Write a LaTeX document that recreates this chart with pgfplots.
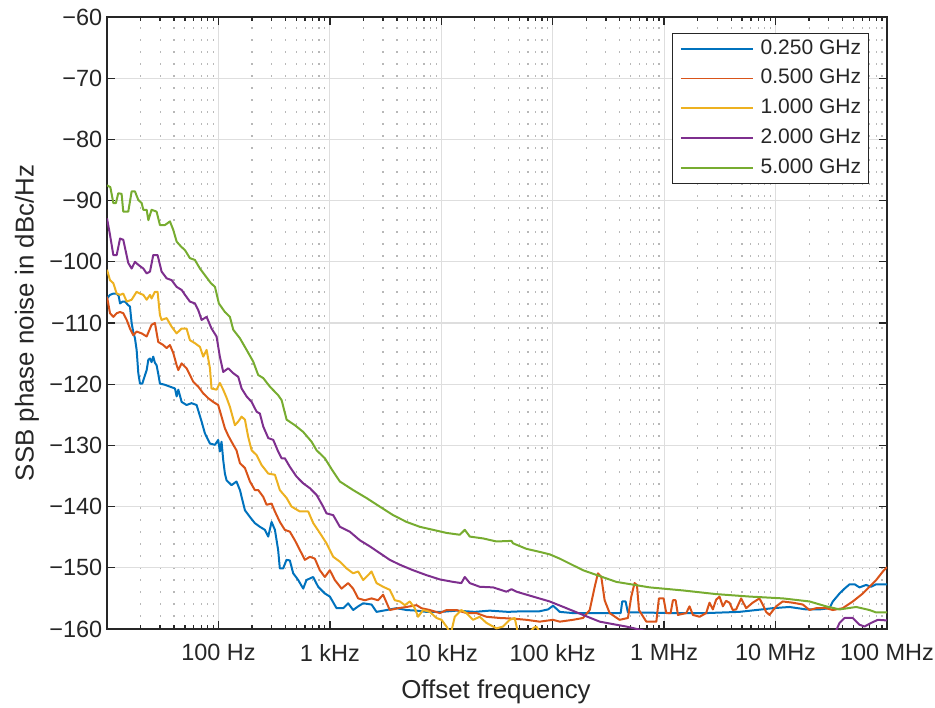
\documentclass[border=0pt]{standalone}
\usepackage{fontspec}
\setmainfont{Liberation Sans}
\usepackage{pgfplots}
\pgfplotsset{compat=1.18}
\definecolor{axgray}{rgb}{0.15,0.15,0.15}
\definecolor{mblue}{rgb}{0,0.447,0.741}
\definecolor{mred}{rgb}{0.850,0.325,0.098}
\definecolor{myellow}{rgb}{0.929,0.694,0.125}
\definecolor{mpurple}{rgb}{0.494,0.184,0.556}
\definecolor{mgreen}{rgb}{0.466,0.674,0.188}
\definecolor{majgrid}{rgb}{0.87,0.87,0.87}
\definecolor{mingrid}{rgb}{0.72,0.72,0.72}
\begin{document}
\begin{tikzpicture}
\begin{axis}[
  name=ax,
  scale only axis,
  width=585pt, height=459pt,
  xmin=1, xmax=8, ymin=-160, ymax=-60,
  xtick={2,3,4,5,6,7,8},
  xticklabels={100 Hz,1 kHz,10 kHz,100 kHz,1 MHz,10 MHz,100 MHz},
  minor xtick={1.30103,1.47712,1.60206,1.69897,1.77815,1.84510,1.90309,1.95424,
               2.30103,2.47712,2.60206,2.69897,2.77815,2.84510,2.90309,2.95424,
               3.30103,3.47712,3.60206,3.69897,3.77815,3.84510,3.90309,3.95424,
               4.30103,4.47712,4.60206,4.69897,4.77815,4.84510,4.90309,4.95424,
               5.30103,5.47712,5.60206,5.69897,5.77815,5.84510,5.90309,5.95424,
               6.30103,6.47712,6.60206,6.69897,6.77815,6.84510,6.90309,6.95424,
               7.30103,7.47712,7.60206,7.69897,7.77815,7.84510,7.90309,7.95424},
  ytick={-160,-150,-140,-130,-120,-110,-100,-90,-80,-70,-60},
  yticklabels={−160,−150,−140,−130,−120,−110,−100,−90,−80,−70,−60},
  grid=both,
  major grid style={line width=0.9pt, majgrid},
  minor grid style={line width=0.9pt, mingrid, dash pattern=on 1.2pt off 7.8pt},
  axis line style={axgray, line width=1pt},
  major tick length=6pt, minor tick length=3pt,
  every tick/.style={axgray, line width=1pt},
  tick label style={font=\fontsize{17.6}{21}\selectfont, text=axgray},
  xticklabel style={yshift=-8pt},
  label style={font=\fontsize{19.4}{23}\selectfont, text=axgray},
  xlabel={Offset frequency},
  ylabel={SSB phase noise in dBc/Hz},
  xlabel style={at={(axis description cs:0.4987,-0.103)}, anchor=center},
  ylabel style={at={(axis description cs:-0.1026,0.5)}, anchor=center},
  legend style={at={(rel axis cs:0.9769,0.9739)}, anchor=north east,
    draw=axgray, line width=0.8pt, fill=white,
    font=\fontsize{15.75}{18}\selectfont, text=axgray,
    inner xsep=5.5pt, inner ysep=4pt, row sep=7.3pt, column sep=5.25pt,
    nodes={inner sep=0pt, text height=11.5pt, text depth=3.5pt}},
  legend cell align=left,
  legend image code/.code={\draw[#1, line width=1.3pt] (0pt,0pt) -- (54pt,0pt);},
  every axis plot/.append style={line width=1.5pt, line join=round},
]
\addplot[mblue] coordinates {
(1.000,-106.0) (1.027,-105.4) (1.057,-105.2) (1.087,-105.2) (1.105,-105.6) (1.117,-106.8)
(1.140,-106.5) (1.161,-106.5) (1.191,-107.1) (1.206,-107.3) (1.221,-110.0) (1.236,-111.5)
(1.251,-112.5) (1.266,-114.4) (1.281,-118.2) (1.296,-119.9) (1.317,-119.9) (1.336,-118.8)
(1.356,-117.7) (1.371,-116.0) (1.386,-115.8) (1.400,-116.4) (1.415,-115.5) (1.430,-116.5)
(1.445,-116.9) (1.460,-118.3) (1.475,-119.9) (1.520,-120.1) (1.565,-120.4) (1.610,-120.7)
(1.625,-122.0) (1.640,-120.9) (1.670,-122.9) (1.714,-123.4) (1.759,-123.1) (1.804,-123.4)
(1.849,-126.1) (1.878,-128.0) (1.924,-129.7) (1.969,-129.9) (1.998,-129.1) (2.013,-131.0)
(2.028,-129.4) (2.043,-132.4) (2.058,-134.6) (2.073,-135.7) (2.118,-136.5) (2.162,-135.9)
(2.193,-137.3) (2.238,-140.6) (2.283,-141.7) (2.327,-142.7) (2.372,-143.3) (2.417,-143.8)
(2.447,-144.9) (2.477,-142.5) (2.507,-143.8) (2.536,-147.1) (2.551,-150.1) (2.581,-150.1)
(2.611,-148.7) (2.641,-148.8) (2.671,-150.9) (2.716,-152.0) (2.761,-153.4) (2.790,-152.0)
(2.850,-151.5) (2.895,-153.1) (2.955,-154.2) (3.000,-154.7) (3.060,-156.6) (3.120,-156.6)
(3.164,-155.8) (3.209,-156.9) (3.254,-156.3) (3.299,-155.8) (3.374,-156.0) (3.419,-157.2)
(3.509,-156.9) (3.598,-156.6) (3.688,-156.9) (3.778,-157.0) (3.867,-157.2) (4.000,-157.2)
(4.136,-157.0) (4.300,-157.2) (4.435,-157.0) (4.600,-157.2) (4.734,-157.1) (4.883,-157.1)
(4.958,-156.8) (5.003,-156.2) (5.040,-156.8) (5.063,-157.2) (5.182,-157.4) (5.481,-157.4)
(5.610,-157.4) (5.624,-155.5) (5.654,-155.5) (5.675,-157.3) (5.780,-157.3) (6.079,-157.4)
(6.377,-157.4) (6.676,-157.2) (6.826,-156.9) (6.975,-156.6) (7.124,-156.4) (7.274,-156.8)
(7.394,-156.8) (7.484,-156.6) (7.514,-155.5) (7.574,-154.2) (7.619,-153.4) (7.664,-152.7)
(7.710,-152.7) (7.753,-153.2) (7.783,-153.0) (7.812,-152.8) (7.857,-153.1) (7.901,-152.7)
(8.000,-152.7)};
\addlegendentry{0.250 GHz}
\addplot[mred] coordinates {
(1.000,-105.7) (1.027,-108.4) (1.057,-109.0) (1.087,-108.4) (1.117,-108.2) (1.146,-108.4)
(1.177,-109.5) (1.206,-110.9) (1.236,-112.0) (1.266,-111.4) (1.311,-111.7) (1.356,-112.2)
(1.400,-110.3) (1.430,-110.0) (1.460,-113.1) (1.505,-113.6) (1.535,-114.1) (1.565,-113.6)
(1.595,-114.9) (1.625,-116.9) (1.640,-117.7) (1.670,-116.6) (1.714,-117.4) (1.744,-118.5)
(1.774,-119.6) (1.819,-120.4) (1.864,-121.5) (1.909,-122.3) (1.953,-122.9) (1.998,-123.4)
(2.028,-125.3) (2.058,-127.2) (2.088,-128.4) (2.133,-129.9) (2.162,-130.8) (2.193,-132.9)
(2.238,-133.7) (2.283,-135.9) (2.327,-137.3) (2.357,-137.3) (2.402,-138.4) (2.432,-139.7)
(2.477,-139.5) (2.507,-140.8) (2.551,-142.5) (2.596,-143.8) (2.641,-144.1) (2.686,-145.5)
(2.731,-147.1) (2.776,-148.7) (2.821,-148.2) (2.865,-148.5) (2.910,-150.4) (2.955,-151.5)
(3.000,-150.4) (3.045,-152.0) (3.105,-153.4) (3.164,-152.5) (3.209,-153.4) (3.254,-155.0)
(3.314,-155.3) (3.374,-155.0) (3.433,-155.3) (3.478,-154.4) (3.538,-156.9) (3.613,-156.6)
(3.688,-156.4) (3.778,-156.1) (3.822,-156.6) (3.897,-156.9) (3.987,-157.4) (4.047,-156.9)
(4.136,-156.9) (4.226,-157.4) (4.315,-157.4) (4.405,-158.0) (4.525,-158.2) (4.644,-158.3)
(4.764,-158.5) (4.883,-158.8) (5.003,-158.5) (5.063,-158.8) (5.182,-158.5) (5.272,-158.2)
(5.332,-156.9) (5.377,-153.1) (5.406,-150.9) (5.436,-151.5) (5.466,-155.3) (5.511,-157.4)
(5.600,-158.5) (5.675,-158.2) (5.705,-154.7) (5.735,-152.5) (5.756,-152.8) (5.774,-156.9)
(5.840,-158.8) (5.930,-158.8) (5.953,-155.0) (5.995,-155.0) (6.019,-157.4) (6.058,-157.4)
(6.079,-155.3) (6.103,-155.3) (6.124,-157.7) (6.198,-157.4) (6.228,-156.3) (6.258,-157.7)
(6.318,-158.0) (6.377,-157.4) (6.407,-155.7) (6.437,-156.8) (6.467,-155.2) (6.497,-154.7)
(6.527,-156.3) (6.556,-155.4) (6.586,-155.7) (6.616,-156.9) (6.646,-156.8) (6.691,-155.0)
(6.736,-156.6) (6.795,-155.7) (6.855,-155.0) (6.885,-156.0) (6.915,-157.2) (6.945,-157.7)
(7.005,-156.3) (7.064,-155.5) (7.154,-155.7) (7.244,-156.0) (7.305,-156.9) (7.364,-156.6)
(7.454,-156.6) (7.514,-156.9) (7.603,-156.6) (7.693,-155.5) (7.783,-154.2) (7.843,-153.1)
(7.903,-152.0) (7.963,-150.6) (8.000,-149.9)};
\addlegendentry{0.500 GHz}
\addplot[myellow] coordinates {
(1.000,-101.3) (1.027,-103.0) (1.057,-103.5) (1.087,-105.2) (1.117,-105.4) (1.146,-105.2)
(1.177,-106.5) (1.221,-106.2) (1.266,-104.9) (1.296,-105.2) (1.326,-105.4) (1.356,-106.2)
(1.386,-105.4) (1.400,-106.0) (1.430,-104.9) (1.454,-104.9) (1.475,-108.7) (1.490,-109.5)
(1.535,-109.2) (1.580,-110.6) (1.625,-111.7) (1.670,-110.9) (1.714,-110.9) (1.744,-112.8)
(1.789,-113.3) (1.834,-113.9) (1.864,-115.5) (1.894,-114.4) (1.924,-117.4) (1.938,-120.7)
(1.983,-120.9) (2.013,-119.8) (2.043,-120.9) (2.073,-122.2) (2.103,-123.7) (2.148,-126.7)
(2.178,-126.1) (2.208,-125.3) (2.238,-125.8) (2.267,-128.6) (2.298,-130.8) (2.343,-131.6)
(2.387,-133.2) (2.447,-134.6) (2.507,-134.8) (2.551,-137.3) (2.612,-138.6) (2.656,-140.0)
(2.731,-140.8) (2.806,-140.8) (2.851,-142.7) (2.910,-144.3) (2.970,-146.0) (3.030,-148.2)
(3.090,-149.0) (3.150,-150.1) (3.209,-150.9) (3.254,-150.6) (3.299,-152.0) (3.344,-151.2)
(3.374,-150.6) (3.419,-152.5) (3.478,-153.1) (3.538,-153.6) (3.583,-155.3) (3.628,-155.5)
(3.673,-156.1) (3.717,-155.5) (3.762,-156.6) (3.792,-158.0) (3.837,-156.9) (3.897,-157.2)
(3.957,-158.2) (4.002,-158.5) (4.047,-159.6) (4.085,-160.8) (4.121,-158.0) (4.180,-156.9)
(4.226,-157.4) (4.285,-158.5) (4.345,-158.0) (4.405,-159.0) (4.495,-159.9) (4.554,-159.6)
(4.614,-158.5) (4.659,-158.2) (4.690,-160.8) (4.780,-160.8) (4.830,-159.8) (4.853,-159.6)
(4.900,-161.0) (5.500,-162.0) (8.000,-162.0)};
\addlegendentry{1.000 GHz}
\addplot[mpurple] coordinates {
(1.000,-92.9) (1.027,-95.6) (1.057,-98.9) (1.087,-98.9) (1.117,-96.2) (1.146,-96.4)
(1.191,-100.2) (1.221,-101.1) (1.251,-100.0) (1.281,-100.5) (1.326,-101.1) (1.356,-101.9)
(1.386,-101.6) (1.415,-98.9) (1.454,-98.9) (1.490,-101.6) (1.535,-102.7) (1.580,-103.0)
(1.625,-104.1) (1.670,-104.6) (1.700,-105.4) (1.744,-106.5) (1.789,-106.8) (1.819,-107.9)
(1.849,-109.5) (1.894,-109.0) (1.938,-110.9) (1.983,-112.2) (2.013,-115.5) (2.043,-118.0)
(2.088,-117.4) (2.133,-118.2) (2.178,-118.8) (2.208,-120.7) (2.253,-122.0) (2.298,-122.9)
(2.343,-124.5) (2.372,-124.8) (2.402,-126.9) (2.447,-128.8) (2.492,-129.1) (2.536,-131.0)
(2.567,-132.1) (2.596,-132.1) (2.641,-133.5) (2.701,-135.1) (2.761,-136.2) (2.821,-137.0)
(2.881,-138.1) (2.940,-140.0) (2.970,-141.1) (3.030,-141.4) (3.090,-143.3) (3.179,-144.1)
(3.269,-145.5) (3.359,-146.5) (3.448,-147.6) (3.538,-148.7) (3.628,-149.5) (3.747,-150.4)
(3.867,-151.2) (3.987,-151.9) (4.106,-152.3) (4.180,-152.5) (4.211,-151.5) (4.256,-152.5)
(4.345,-153.1) (4.465,-153.2) (4.584,-153.9) (4.630,-153.5) (4.674,-153.9) (4.823,-154.7)
(4.973,-155.5) (5.123,-156.6) (5.272,-157.7) (5.422,-158.8) (5.540,-159.2) (5.660,-159.6)
(5.780,-160.1) (6.000,-161.0) (7.000,-162.0) (7.500,-161.0) (7.545,-160.2) (7.574,-159.0)
(7.619,-158.2) (7.693,-158.2) (7.753,-159.3) (7.798,-159.6) (7.858,-159.0) (7.918,-158.5)
(8.000,-158.6)};
\addlegendentry{2.000 GHz}
\addplot[mgreen] coordinates {
(1.000,-87.5) (1.030,-87.8) (1.057,-90.4) (1.080,-90.4) (1.101,-88.8) (1.131,-88.9)
(1.146,-91.8) (1.191,-91.8) (1.221,-88.5) (1.251,-88.5) (1.281,-89.9) (1.311,-90.4)
(1.326,-91.5) (1.356,-91.5) (1.371,-93.2) (1.400,-91.5) (1.445,-91.8) (1.475,-94.0)
(1.520,-94.0) (1.565,-93.4) (1.595,-94.8) (1.625,-96.7) (1.664,-97.5) (1.700,-98.1)
(1.744,-99.4) (1.789,-99.7) (1.834,-101.1) (1.879,-102.2) (1.933,-103.5) (1.969,-104.1)
(2.004,-106.8) (2.058,-108.2) (2.103,-109.0) (2.133,-111.1) (2.193,-112.5) (2.253,-114.4)
(2.312,-116.3) (2.357,-118.5) (2.402,-119.0) (2.462,-120.4) (2.536,-121.8) (2.567,-122.6)
(2.612,-125.8) (2.686,-126.7) (2.761,-127.8) (2.836,-129.4) (2.881,-130.8) (2.955,-132.1)
(3.020,-134.0) (3.090,-135.9) (3.209,-137.3) (3.329,-138.6) (3.448,-140.0) (3.568,-141.4)
(3.688,-142.5) (3.807,-143.3) (3.927,-143.8) (4.047,-144.3) (4.166,-144.6) (4.211,-143.8)
(4.256,-144.9) (4.375,-145.2) (4.495,-145.7) (4.630,-145.6) (4.644,-146.0) (4.764,-146.9)
(4.883,-147.4) (4.973,-147.8) (5.063,-148.5) (5.272,-150.4) (5.571,-152.3) (5.870,-153.2)
(6.169,-153.7) (6.468,-154.3) (6.767,-154.7) (7.066,-155.0) (7.305,-155.5) (7.454,-156.3)
(7.574,-156.8) (7.724,-156.4) (7.843,-156.9) (7.903,-157.3) (8.000,-157.3)};
\addlegendentry{5.000 GHz}
\end{axis}
\pgfresetboundingbox
\path[use as bounding box] ([xshift=-80.25pt,yshift=-58.5pt]ax.south west) rectangle ([xshift=36pt,yshift=12.75pt]ax.north east);
\end{tikzpicture}
\end{document}
